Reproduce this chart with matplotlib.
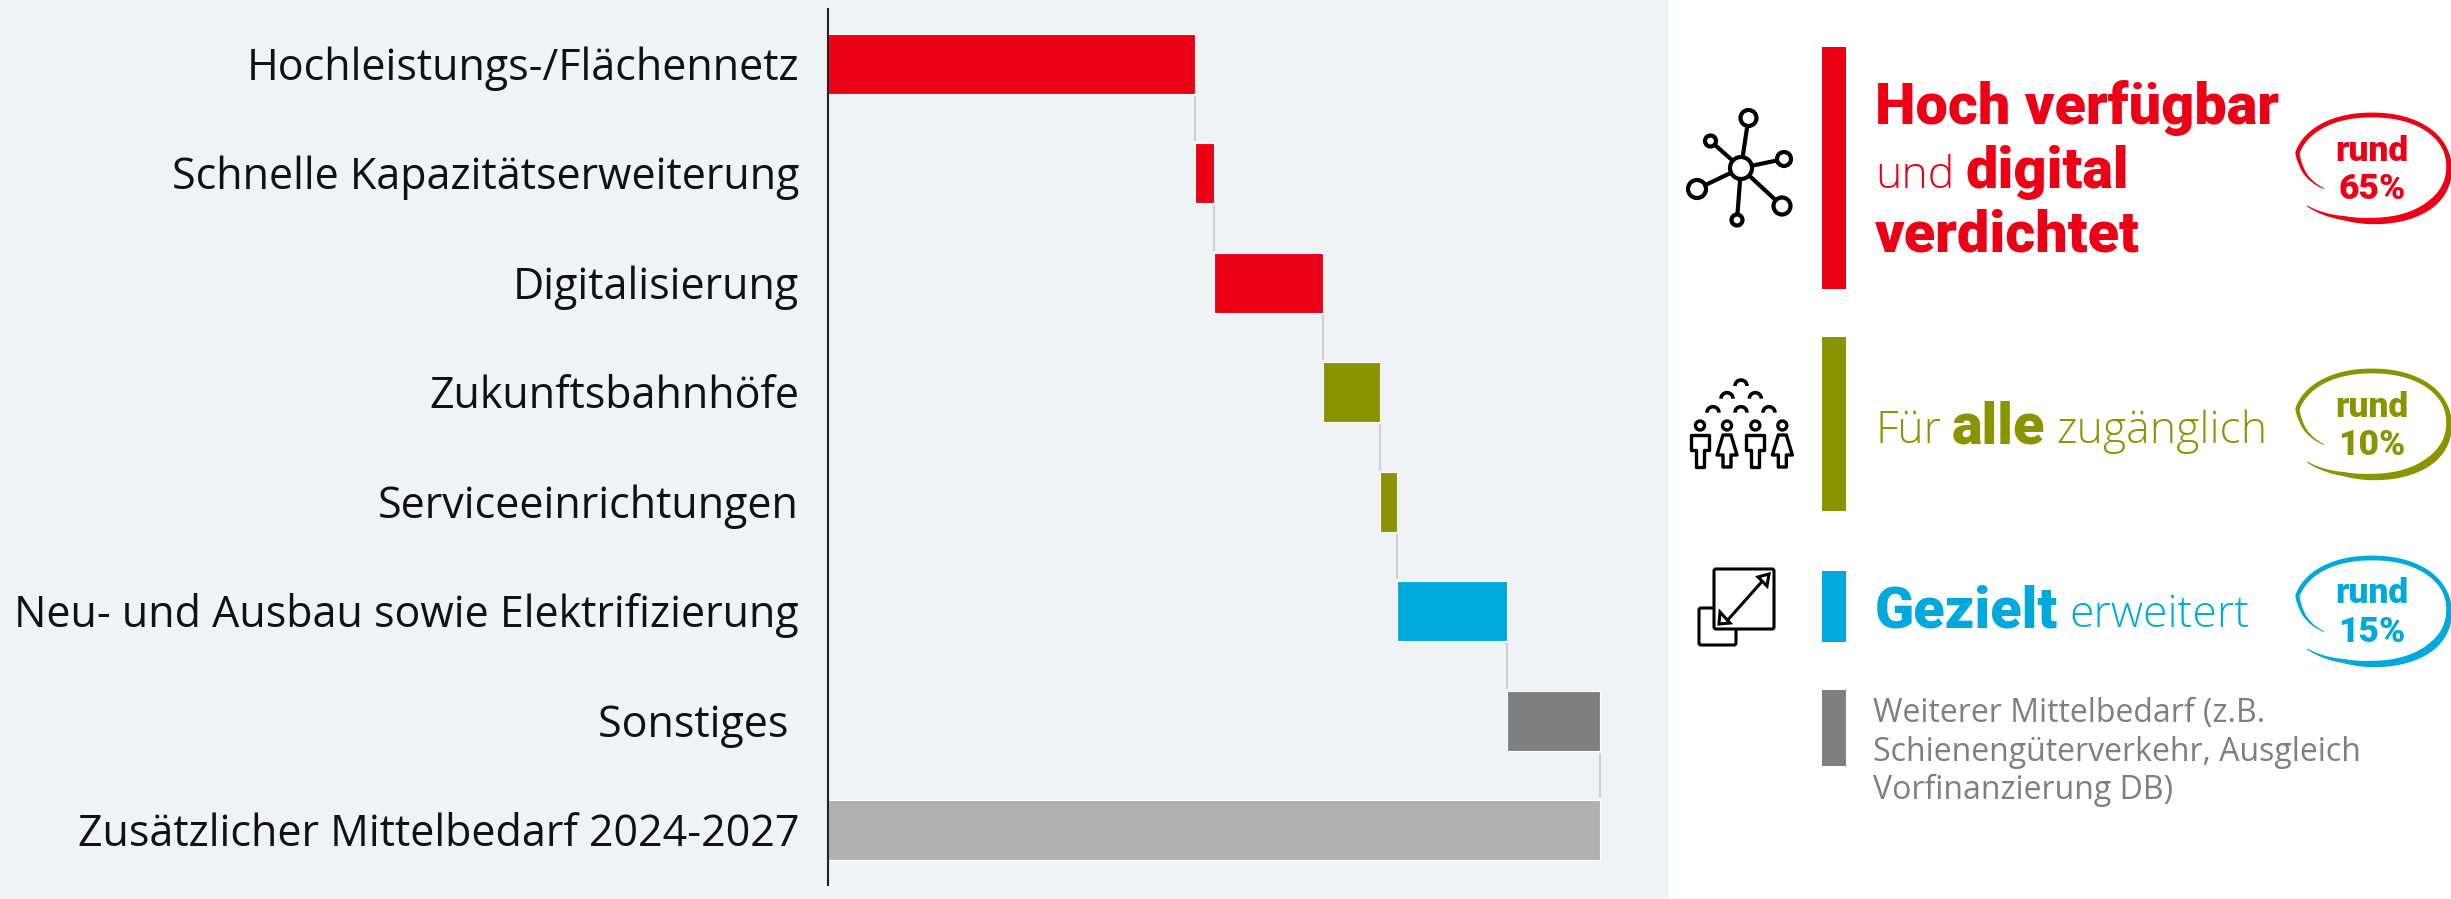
import matplotlib
matplotlib.use("Agg")
import matplotlib.pyplot as plt
import numpy as np
from matplotlib.patches import Circle, Rectangle, Polygon, FancyBboxPatch, Arc

# Row labels and size of each step in the waterfall (Mrd. EUR)
labels = ['Hochleistungs-/Flächennetz', 'Schnelle Kapazitätserweiterung', 'Digitalisierung',
          'Zukunftsbahnhöfe', 'Serviceeinrichtungen', 'Neu- und Ausbau sowie Elektrifizierung',
          'Sonstiges ', 'Zusätzlicher Mittelbedarf 2024-2027']
steps = [21.4, 1.1, 6.4, 3.3, 1.0, 6.4, 5.4]
step_colors = ['#ec0016', '#ec0016', '#ec0016', '#8a9400', '#8a9400', '#00a9dc', '#7f7f7f']
total = 45.0
total_color = '#b1b1b1'

RED, OLIVE, BLUE, GREY = '#ec0016', '#8a9400', '#00a9dc', '#7f7f7f'
BG = '#eff3f6'
REG = 'Open Sans'
HEAVY = 'Roboto'

W, H = 2451, 899
fig = plt.figure(figsize=(W / 100, H / 100), dpi=100)
fig.patch.set_facecolor('white')

# pixel overlay for the panel, labels, legend and icons
deco = fig.add_axes([0, 0, 1, 1], zorder=0)
deco.set_xlim(0, W)
deco.set_ylim(H, 0)
deco.axis('off')
deco.add_patch(Rectangle((0, 0), 1669, H, fc=BG, ec='none'))

# waterfall axes
ax = fig.add_axes([828 / W, 1 - 885 / H, (1650 - 828) / W, 876 / H], zorder=1)
ax.patch.set_alpha(0)
ax.set_xlim(0, 45.0 * 822 / 771.5)
ax.set_ylim(7.5, -0.5)
for s in ['top', 'right', 'bottom']:
    ax.spines[s].set_visible(False)
ax.spines['left'].set_color('#222222')
ax.spines['left'].set_linewidth(1.5)
ax.set_xticks([])
ax.set_yticks([])

lefts = np.concatenate([[0], np.cumsum(steps)[:-1]])
ypos = np.arange(len(steps))
ax.barh(ypos, steps, left=lefts, height=0.55, color=step_colors, edgecolor='white', linewidth=0.8)
ax.barh(len(steps), total, height=0.55, color=total_color, edgecolor='white', linewidth=0.8)

# connectors
ends = np.cumsum(steps)
for i, e in enumerate(ends):
    ax.plot([e, e], [i + 0.29, i + 0.71], color='#d0d0d0', lw=1.5, solid_capstyle='butt')

for i, lab in enumerate(labels):
    deco.text(799, 63.75 + i * 109.5 + 16, lab, ha='right', va='baseline', fontsize=31,
              family=REG, color='#111111')


def pieces(x, y, parts, color):
    # run of regular / heavy text on one baseline
    r = fig.canvas.get_renderer()
    for txt, heavy in parts:
        if heavy:
            t = deco.text(x, y, txt, fontsize=41.5, color=color, family=HEAVY, fontweight=900, va='baseline')
        else:
            t = deco.text(x, y, txt, fontsize=32, color=color, family=REG, fontweight=300, va='baseline')
        x += t.get_window_extent(r).width + 11


def blob(top, color):
    # hand drawn ring, open at lower left, thicker along the bottom right
    cx, cy = 2372, top + 55
    th = np.linspace(-140, 211, 200)
    f = np.interp(th, [-140, -110, 165, 211], [1.08, 1.0, 1.0, 0.72])
    a = np.radians(th)
    ux = np.sign(np.cos(a)) * np.abs(np.cos(a)) ** 0.93
    uy = np.sign(np.sin(a)) * np.abs(np.sin(a)) ** 0.93
    w = np.interp(th, [-140, -90, -40, 20, 90, 170, 211], [0.5, 3.2, 4.0, 2.2, 2.4, 2.2, 0.5])
    outer = np.c_[cx + (77 * f + w) * ux, cy - (53 * f + w) * uy]
    inner = np.c_[cx + (77 * f - w) * ux, cy - (53 * f - w) * uy]
    deco.add_patch(Polygon(np.r_[outer, inner[::-1]], closed=True, fc=color, ec='none'))


def badge(top, pct, color, base1, base2):
    blob(top, color)
    deco.text(2372, base1, 'rund', ha='center', va='baseline', fontsize=25.5, family=HEAVY,
              fontweight=900, color=color)
    deco.text(2372, base2, pct, ha='center', va='baseline', fontsize=25.5, family=HEAVY,
              fontweight=900, color=color)


# legend bars
for (y0, y1, c) in [(47, 289, RED), (337, 511, OLIVE), (571, 642, BLUE), (690, 766, GREY)]:
    deco.add_patch(Rectangle((1822, y0), 24, y1 - y0, fc=c, ec='none'))

pieces(1875, 124, [('Hoch verfügbar', True)], RED)
pieces(1875, 188, [('und', False), ('digital', True)], RED)
pieces(1875, 252, [('verdichtet', True)], RED)
pieces(1875, 443, [('Für', False), ('alle', True), ('zugänglich', False)], OLIVE)
pieces(1875, 627, [('Gezielt', True), ('erweitert', False)], BLUE)
for yb, line in zip([722, 761, 799], ['Weiterer Mittelbedarf (z.B.', 'Schienengüterverkehr, Ausgleich', 'Vorfinanzierung DB)']):
    deco.text(1873, yb, line, fontsize=23, family=REG, color=GREY, va='baseline')

badge(113, '65%', RED, 161, 199)
badge(369, '10%', OLIVE, 417, 455)
badge(556, '15%', BLUE, 603, 642)

# network icon
hub = (1741, 168)
for (x, y, r) in [(1748.5, 118, 8), (1710.5, 141, 5.5), (1784, 159, 7), (1697, 189, 9), (1782, 206, 8.5), (1737, 220, 5.5)]:
    deco.plot([hub[0], x], [hub[1], y], color='black', lw=3, zorder=3)
    deco.add_patch(Circle((x, y), r, fc='white', ec='black', lw=3, zorder=4))
deco.add_patch(Circle(hub, 11, fc='white', ec='black', lw=3, zorder=4))

# people icon
for zx, zy in [(183, 78), (141, 116), (226, 116), (99, 158), (183, 158), (267, 158)]:
    deco.add_patch(Arc((1680 + zx / 3, 360 + zy / 3), 12, 12, theta1=180, theta2=360, color='black', lw=2.6))
man = np.array([[-9, 0], [9, 0], [9, 15], [4, 15], [4, 32], [-4, 32], [-4, 15], [-9, 15]])
woman = np.array([[-4, 0], [4, 0], [10, 20], [4, 20], [4, 32], [-4, 32], [-4, 20], [-10, 20]])
for zx, shape in zip([60, 141, 226, 307], [man, woman, man, woman]):
    px = 1680 + zx / 3
    deco.add_patch(Circle((px, 425.5), 4.5, fc='none', ec='black', lw=2.4))
    deco.add_patch(Polygon(shape + [px, 435], closed=True, fc='none', ec='black', lw=2.4, joinstyle='round'))

# resize icon
deco.add_patch(FancyBboxPatch((1699, 608), 37, 37, boxstyle='round,pad=0,rounding_size=2', fc='white', ec='black', lw=2.2, zorder=3))
deco.add_patch(FancyBboxPatch((1714, 569), 60, 60, boxstyle='round,pad=0,rounding_size=2', fc='white', ec='black', lw=2.2, zorder=4))
deco.plot([1726, 1766], [622, 577], color='black', lw=2.2, zorder=5)
deco.add_patch(Polygon([[1769, 574], [1758, 577], [1767, 586]], closed=True, fc='white', ec='black', lw=2.2, zorder=6))
deco.add_patch(Polygon([[1719, 624], [1730, 623], [1720, 612]], closed=True, fc='white', ec='black', lw=2.2, zorder=6))

fig.savefig('out.png', dpi=100)
